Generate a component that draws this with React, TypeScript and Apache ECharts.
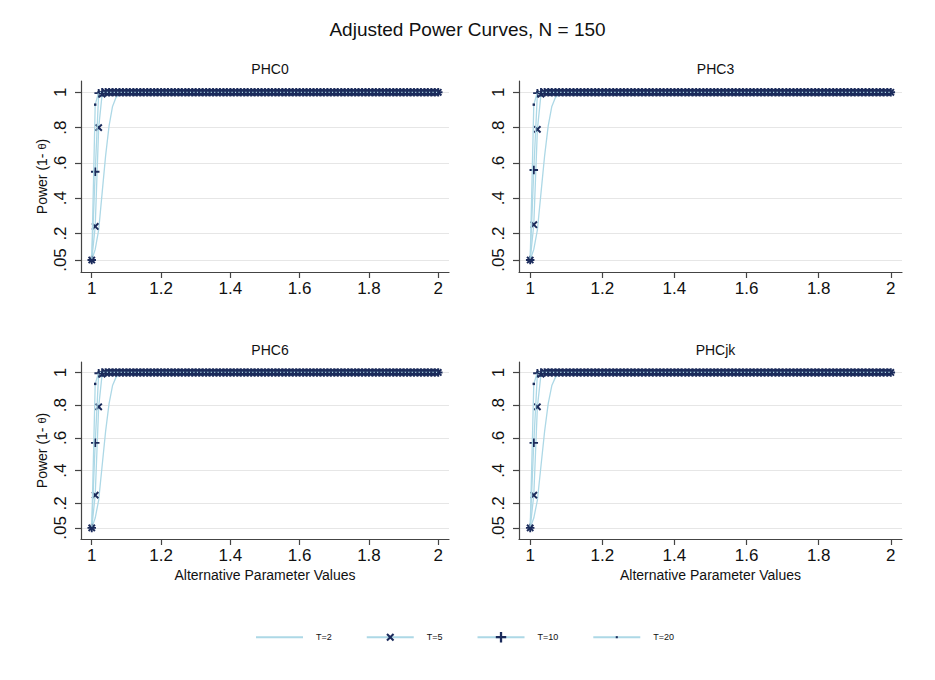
import React, { useEffect, useRef } from "react";
import * as echarts from "echarts";

// Alternative parameter values (x grid)
const ALT_VALUES = [
  1.0, 1.01, 1.02, 1.03, 1.04, 1.05, 1.06, 1.07, 1.08, 1.09,
  1.1, 1.11, 1.12, 1.13, 1.14, 1.15, 1.16, 1.17, 1.18, 1.19,
  1.2, 1.21, 1.22, 1.23, 1.24, 1.25, 1.26, 1.27, 1.28, 1.29,
  1.3, 1.31, 1.32, 1.33, 1.34, 1.35, 1.36, 1.37, 1.38, 1.39,
  1.4, 1.41, 1.42, 1.43, 1.44, 1.45, 1.46, 1.47, 1.48, 1.49,
  1.5, 1.51, 1.52, 1.53, 1.54, 1.55, 1.56, 1.57, 1.58, 1.59,
  1.6, 1.61, 1.62, 1.63, 1.64, 1.65, 1.66, 1.67, 1.68, 1.69,
  1.7, 1.71, 1.72, 1.73, 1.74, 1.75, 1.76, 1.77, 1.78, 1.79,
  1.8, 1.81, 1.82, 1.83, 1.84, 1.85, 1.86, 1.87, 1.88, 1.89,
  1.9, 1.91, 1.92, 1.93, 1.94, 1.95, 1.96, 1.97, 1.98, 1.99,
  2.0,
];

// Power, T=2 (same in all panels)
const POWER_T2 = [
  0.05, 0.11, 0.22, 0.43, 0.64, 0.81, 0.92, 0.97, 0.99,
  1, 1, 1, 1, 1, 1, 1, 1, 1, 1,
  1, 1, 1, 1, 1, 1, 1, 1, 1, 1,
  1, 1, 1, 1, 1, 1, 1, 1, 1, 1,
  1, 1, 1, 1, 1, 1, 1, 1, 1, 1,
  1, 1, 1, 1, 1, 1, 1, 1, 1, 1,
  1, 1, 1, 1, 1, 1, 1, 1, 1, 1,
  1, 1, 1, 1, 1, 1, 1, 1, 1, 1,
  1, 1, 1, 1, 1, 1, 1, 1, 1, 1,
  1, 1, 1, 1, 1, 1, 1, 1, 1, 1,
  1, 1,
];

// Power, T=20 (same in all panels)
const POWER_T20 = [
  0.05, 0.93,
  1, 1, 1, 1, 1, 1, 1, 1, 1, 1,
  1, 1, 1, 1, 1, 1, 1, 1, 1, 1,
  1, 1, 1, 1, 1, 1, 1, 1, 1, 1,
  1, 1, 1, 1, 1, 1, 1, 1, 1, 1,
  1, 1, 1, 1, 1, 1, 1, 1, 1, 1,
  1, 1, 1, 1, 1, 1, 1, 1, 1, 1,
  1, 1, 1, 1, 1, 1, 1, 1, 1, 1,
  1, 1, 1, 1, 1, 1, 1, 1, 1, 1,
  1, 1, 1, 1, 1, 1, 1, 1, 1, 1,
  1, 1, 1, 1, 1, 1, 1, 1, 1,
];

const PHC0_T5 = [
  0.05, 0.24, 0.8, 0.99,
  1, 1, 1, 1, 1, 1, 1, 1, 1, 1,
  1, 1, 1, 1, 1, 1, 1, 1, 1, 1,
  1, 1, 1, 1, 1, 1, 1, 1, 1, 1,
  1, 1, 1, 1, 1, 1, 1, 1, 1, 1,
  1, 1, 1, 1, 1, 1, 1, 1, 1, 1,
  1, 1, 1, 1, 1, 1, 1, 1, 1, 1,
  1, 1, 1, 1, 1, 1, 1, 1, 1, 1,
  1, 1, 1, 1, 1, 1, 1, 1, 1, 1,
  1, 1, 1, 1, 1, 1, 1, 1, 1, 1,
  1, 1, 1, 1, 1, 1, 1,
];
const PHC0_T10 = [
  0.05, 0.55, 0.995,
  1, 1, 1, 1, 1, 1, 1, 1, 1, 1,
  1, 1, 1, 1, 1, 1, 1, 1, 1, 1,
  1, 1, 1, 1, 1, 1, 1, 1, 1, 1,
  1, 1, 1, 1, 1, 1, 1, 1, 1, 1,
  1, 1, 1, 1, 1, 1, 1, 1, 1, 1,
  1, 1, 1, 1, 1, 1, 1, 1, 1, 1,
  1, 1, 1, 1, 1, 1, 1, 1, 1, 1,
  1, 1, 1, 1, 1, 1, 1, 1, 1, 1,
  1, 1, 1, 1, 1, 1, 1, 1, 1, 1,
  1, 1, 1, 1, 1, 1, 1, 1,
];
const PHC3_T5 = [
  0.05, 0.25, 0.79, 0.99,
  1, 1, 1, 1, 1, 1, 1, 1, 1, 1,
  1, 1, 1, 1, 1, 1, 1, 1, 1, 1,
  1, 1, 1, 1, 1, 1, 1, 1, 1, 1,
  1, 1, 1, 1, 1, 1, 1, 1, 1, 1,
  1, 1, 1, 1, 1, 1, 1, 1, 1, 1,
  1, 1, 1, 1, 1, 1, 1, 1, 1, 1,
  1, 1, 1, 1, 1, 1, 1, 1, 1, 1,
  1, 1, 1, 1, 1, 1, 1, 1, 1, 1,
  1, 1, 1, 1, 1, 1, 1, 1, 1, 1,
  1, 1, 1, 1, 1, 1, 1,
];
const PHC3_T10 = [
  0.05, 0.56, 0.995,
  1, 1, 1, 1, 1, 1, 1, 1, 1, 1,
  1, 1, 1, 1, 1, 1, 1, 1, 1, 1,
  1, 1, 1, 1, 1, 1, 1, 1, 1, 1,
  1, 1, 1, 1, 1, 1, 1, 1, 1, 1,
  1, 1, 1, 1, 1, 1, 1, 1, 1, 1,
  1, 1, 1, 1, 1, 1, 1, 1, 1, 1,
  1, 1, 1, 1, 1, 1, 1, 1, 1, 1,
  1, 1, 1, 1, 1, 1, 1, 1, 1, 1,
  1, 1, 1, 1, 1, 1, 1, 1, 1, 1,
  1, 1, 1, 1, 1, 1, 1, 1,
];
const PHC6_T5 = [
  0.05, 0.25, 0.79, 0.99,
  1, 1, 1, 1, 1, 1, 1, 1, 1, 1,
  1, 1, 1, 1, 1, 1, 1, 1, 1, 1,
  1, 1, 1, 1, 1, 1, 1, 1, 1, 1,
  1, 1, 1, 1, 1, 1, 1, 1, 1, 1,
  1, 1, 1, 1, 1, 1, 1, 1, 1, 1,
  1, 1, 1, 1, 1, 1, 1, 1, 1, 1,
  1, 1, 1, 1, 1, 1, 1, 1, 1, 1,
  1, 1, 1, 1, 1, 1, 1, 1, 1, 1,
  1, 1, 1, 1, 1, 1, 1, 1, 1, 1,
  1, 1, 1, 1, 1, 1, 1,
];
const PHC6_T10 = [
  0.05, 0.57, 0.995,
  1, 1, 1, 1, 1, 1, 1, 1, 1, 1,
  1, 1, 1, 1, 1, 1, 1, 1, 1, 1,
  1, 1, 1, 1, 1, 1, 1, 1, 1, 1,
  1, 1, 1, 1, 1, 1, 1, 1, 1, 1,
  1, 1, 1, 1, 1, 1, 1, 1, 1, 1,
  1, 1, 1, 1, 1, 1, 1, 1, 1, 1,
  1, 1, 1, 1, 1, 1, 1, 1, 1, 1,
  1, 1, 1, 1, 1, 1, 1, 1, 1, 1,
  1, 1, 1, 1, 1, 1, 1, 1, 1, 1,
  1, 1, 1, 1, 1, 1, 1, 1,
];
const PHCJK_T5 = [
  0.05, 0.25, 0.79, 0.99,
  1, 1, 1, 1, 1, 1, 1, 1, 1, 1,
  1, 1, 1, 1, 1, 1, 1, 1, 1, 1,
  1, 1, 1, 1, 1, 1, 1, 1, 1, 1,
  1, 1, 1, 1, 1, 1, 1, 1, 1, 1,
  1, 1, 1, 1, 1, 1, 1, 1, 1, 1,
  1, 1, 1, 1, 1, 1, 1, 1, 1, 1,
  1, 1, 1, 1, 1, 1, 1, 1, 1, 1,
  1, 1, 1, 1, 1, 1, 1, 1, 1, 1,
  1, 1, 1, 1, 1, 1, 1, 1, 1, 1,
  1, 1, 1, 1, 1, 1, 1,
];
const PHCJK_T10 = [
  0.05, 0.57, 0.995,
  1, 1, 1, 1, 1, 1, 1, 1, 1, 1,
  1, 1, 1, 1, 1, 1, 1, 1, 1, 1,
  1, 1, 1, 1, 1, 1, 1, 1, 1, 1,
  1, 1, 1, 1, 1, 1, 1, 1, 1, 1,
  1, 1, 1, 1, 1, 1, 1, 1, 1, 1,
  1, 1, 1, 1, 1, 1, 1, 1, 1, 1,
  1, 1, 1, 1, 1, 1, 1, 1, 1, 1,
  1, 1, 1, 1, 1, 1, 1, 1, 1, 1,
  1, 1, 1, 1, 1, 1, 1, 1, 1, 1,
  1, 1, 1, 1, 1, 1, 1, 1,
];

const PANEL_TITLES = ["PHC0", "PHC3", "PHC6", "PHCjk"];
const SERIES_NAMES = ["T=2", "T=5", "T=10", "T=20"];
const PANEL_SERIES = [
  [POWER_T2, PHC0_T5, PHC0_T10, POWER_T20],
  [POWER_T2, PHC3_T5, PHC3_T10, POWER_T20],
  [POWER_T2, PHC6_T5, PHC6_T10, POWER_T20],
  [POWER_T2, PHCJK_T5, PHCJK_T10, POWER_T20],
];
const Y_TICKS = [0.05, 0.2, 0.4, 0.6, 0.8, 1];
const X_TICKS = [1, 1.2, 1.4, 1.6, 1.8, 2];
const MAIN_TITLE = "Adjusted Power Curves, N = 150";
const Y_TITLE = "Power (1- {t|θ})";
const X_TITLE = "Alternative Parameter Values";

const FONT = "'Liberation Sans', Arial, Helvetica, sans-serif";
const LINE_COLOR = "#add8e6";
const MARK_COLOR = "#1b2b5b";
const AXIS_COLOR = "#444";
const TEXT_COLOR = "#111";

const SYM_X =
  "path://M-1.5 -1.5M11.5 11.5M0 1.8L1.8 0L5 3.2L8.2 0L10 1.8L6.8 5L10 8.2L8.2 10L5 6.8L1.8 10L0 8.2L3.2 5Z";
const SYM_PLUS = "path://M3.9 0h2.2v3.9h3.9v2.2h-3.9v3.9h-2.2v-3.9h-3.9v-2.2h3.9z";
const SYM_DOT = "path://M0 0M10 10M4 4h2v2h-2z";
const SYMBOLS = ["none", SYM_X, SYM_PLUS, SYM_DOT];
const SYMBOL_SIZES = [0, 10, 8.5, 12];

const GRIDS = [
  { left: 81, top: 81, width: 368, height: 191 },
  { left: 519, top: 81, width: 383, height: 191 },
  { left: 81, top: 362, width: 368, height: 177 },
  { left: 519, top: 362, width: 383, height: 177 },
];

const fmt = (v: number) => {
  const s = String(Math.round(v * 100) / 100);
  return s.startsWith("0.") ? s.slice(1) : s;
};

export default function App() {
  const ref = useRef<HTMLDivElement>(null);

  useEffect(() => {
    document.body.style.margin = "0";
    if (!ref.current) return;
    const chart = echarts.init(ref.current, null, { renderer: "svg" });

    const grid = GRIDS.map((g) => ({ ...g, containLabel: false, outerBoundsMode: "none" }));

    const xAxis = GRIDS.map((_, i) => ({
      type: "value",
      gridIndex: i,
      min: 0.969,
      max: 2.031,
      name: i >= 2 ? X_TITLE : "",
      nameLocation: "middle",
      nameGap: 29,
      nameTextStyle: { fontSize: 14, color: TEXT_COLOR, fontFamily: FONT },
      axisLine: { show: true, onZero: false, lineStyle: { color: AXIS_COLOR, width: 1.2 } },
      axisTick: { show: true, length: 6, customValues: X_TICKS, lineStyle: { color: AXIS_COLOR, width: 1.2 } },
      axisLabel: {
        customValues: X_TICKS,
        formatter: (v: number) => fmt(v),
        fontSize: 17,
        color: TEXT_COLOR,
        fontFamily: FONT,
        margin: 8,
      },
      splitLine: { show: false },
    }));

    const yAxis = GRIDS.map((_, i) => ({
      type: "value",
      gridIndex: i,
      min: -0.018,
      max: 1.064,
      name: i % 2 === 0 ? Y_TITLE : "",
      nameLocation: "middle",
      nameGap: 32,
      nameTextStyle: {
        fontSize: 14,
        color: TEXT_COLOR,
        fontFamily: FONT,
        rich: { t: { fontSize: 11, color: TEXT_COLOR, fontFamily: FONT } },
      },
      axisLine: { show: true, onZero: false, lineStyle: { color: AXIS_COLOR, width: 1.2 } },
      axisTick: { show: true, length: 6, customValues: Y_TICKS, lineStyle: { color: AXIS_COLOR, width: 1.2 } },
      axisLabel: {
        customValues: Y_TICKS,
        formatter: (v: number) => fmt(v),
        rotate: 90,
        fontSize: 17,
        color: TEXT_COLOR,
        fontFamily: FONT,
        margin: 12,
      },
      splitLine: { show: true, lineStyle: { color: "#e6e6e6", width: 1 } },
    }));

    const series: any[] = [];
    PANEL_SERIES.forEach((arrs, p) => {
      arrs.forEach((arr, k) => {
        series.push({
          type: "line",
          name: SERIES_NAMES[k],
          xAxisIndex: p,
          yAxisIndex: p,
          data: ALT_VALUES.map((x, i) => [x, arr[i]]),
          symbol: SYMBOLS[k],
          symbolSize: SYMBOL_SIZES[k],
          showSymbol: k !== 0,
          lineStyle: { color: LINE_COLOR, width: 1.3 },
          itemStyle: { color: MARK_COLOR },
          emphasis: { disabled: true },
          silent: true,
          z: 2 + k,
        });
      });
    });

    const titles: any[] = [
      {
        text: MAIN_TITLE,
        left: "center",
        top: 15,
        textStyle: { fontSize: 19, fontWeight: "normal", color: TEXT_COLOR, fontFamily: FONT },
      },
    ];
    GRIDS.forEach((g, i) => {
      titles.push({
        text: PANEL_TITLES[i],
        left: g.left + g.width / 2,
        top: g.top - 24,
        textAlign: "center",
        textStyle: { fontSize: 14, fontWeight: "normal", color: TEXT_COLOR, fontFamily: FONT },
      });
    });

    chart.setOption({
      animation: false,
      backgroundColor: "#ffffff",
      textStyle: { fontFamily: FONT },
      title: titles,
      legend: {
        data: SERIES_NAMES.map((n, k) =>
          k === 0 ? { name: n, itemStyle: { opacity: 0 } } : { name: n }
        ),
        left: 250,
        top: 627,
        itemWidth: 47,
        itemHeight: 13,
        itemGap: 34,
        selectedMode: false,
        textStyle: { fontSize: 9, color: TEXT_COLOR, fontFamily: FONT, padding: [0, 0, 0, 8] },
      },
      grid,
      xAxis,
      yAxis,
      series,
    });

    return () => chart.dispose();
  }, []);

  return <div ref={ref} style={{ width: 935, height: 680 }} />;
}
